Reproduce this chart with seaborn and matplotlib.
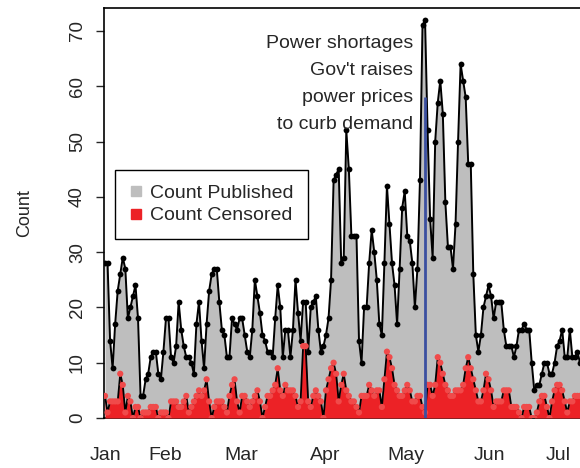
import numpy as np
import pandas as pd
import matplotlib
matplotlib.use("Agg")
import matplotlib.pyplot as plt
import seaborn as sns
from matplotlib.lines import Line2D

# ---------------- data ----------------
published = [
    28, 28, 14, 9, 17, 23, 26, 29, 27, 18, 20, 22, 24, 18, 4, 4, 7, 8, 11, 12,
    12, 8, 7, 12, 18, 18, 11, 10, 13, 21, 16, 13, 11, 11, 10, 8, 17, 21,
    14, 9, 17, 23, 26, 27, 27, 21, 16, 15, 11, 11, 18, 17, 16, 18, 18, 15, 12, 11,
    16, 25, 22, 19, 15, 14, 12, 12, 11, 18, 24, 20, 11, 16, 16, 11, 16, 25,
    19, 14, 21, 21, 12, 20, 21, 22, 16, 12, 13, 15, 18, 25, 43, 44, 45, 28, 29, 52,
    45, 33, 33, 33, 14, 10, 20, 20, 28, 34, 30, 25, 17, 15, 28, 42,
    35, 28, 24, 17, 27, 38, 41, 33, 32, 28, 20, 27, 43, 71, 72, 52, 36, 29, 50, 57,
    61, 55, 39, 31, 31, 27, 35, 50, 64, 61, 58, 46, 46, 26, 15, 12, 15, 20,
    22, 24, 22, 18, 21, 21, 21, 16, 13, 13, 13, 11, 13, 16, 16, 17, 16, 16, 10, 5,
    6, 6, 8, 10, 10, 8, 8, 10, 13, 14, 16, 11, 11, 16, 11, 11, 12, 10,
]
censored = [
    4, 1, 3, 3, 3, 3, 8, 6, 1, 4, 3, 0, 2, 2, 0, 1, 1, 1, 2, 2,
    2, 0, 1, 1, 1, 0, 3, 3, 3, 2, 2, 3, 4, 1, 2, 3, 4, 5, 4, 5,
    7, 3, 0, 2, 3, 3, 3, 2, 1, 4, 6, 7, 3, 1, 4, 4, 3, 2, 3, 4,
    5, 3, 0, 2, 4, 4, 5, 6, 9, 5, 4, 6, 5, 5, 5, 4, 2, 3, 13, 13,
    3, 2, 4, 5, 4, 3, 0, 5, 7, 9, 10, 8, 3, 6, 8, 5, 4, 3, 3, 2,
    1, 4, 4, 4, 6, 5, 4, 5, 5, 2, 7, 12, 11, 9, 6, 5, 4, 4, 5, 6,
    5, 3, 3, 4, 4, 2, 1, 6, 6, 4, 6, 11, 10, 8, 6, 5, 4, 4, 5, 5,
    5, 6, 9, 11, 9, 7, 5, 3, 3, 5, 8, 7, 5, 2, 3, 3, 3, 5, 5, 5,
    2, 2, 2, 1, 0, 2, 2, 2, 0, 0, 1, 3, 4, 4, 2, 0, 3, 5, 6, 6,
    5, 3, 1, 3, 3, 4, 4, 4,
]
month_labels = ["Jan", "Feb", "Mar", "Apr", "May", "Jun", "Jul"]
legend_labels = ["Count Published", "Count Censored"]
annotation = "Power shortages\nGov't raises\npower prices\nto curb demand"
event_day = 126
event_top = 58

# ---------------- layout ----------------
W, H = 580, 468
PX_PER_DAY = 2.54
month_px = [105, 165, 241, 325, 406, 489, 558]

sns.set_style("ticks")
plt.rcParams['font.family'] = ['Liberation Sans', 'DejaVu Sans']

GRAY = "#BEBEBE"
RED = "#EC2226"
RED_DOT = "#F04A4A"
BLUE = "#3B4FA0"

fig = plt.figure(figsize=(W / 100, H / 100), dpi=100)
ax_l, ax_r, ax_t, ax_b = 104, 594, 8, 418
ax = fig.add_axes([ax_l / W, 1 - ax_b / H, (ax_r - ax_l) / W, (ax_b - ax_t) / H])

df = pd.DataFrame({
    "day": np.arange(len(published)),
    "published": published,
    "censored": censored,
})

ax.fill_between(df["day"], 0, df["published"], color=GRAY, lw=0, zorder=1)
sns.lineplot(data=df, x="day", y="published", color="black", lw=1.4,
             marker="o", markersize=4.2, markeredgewidth=0, ax=ax, zorder=2)
ax.fill_between(df["day"], 0, df["censored"], color=RED, lw=0, zorder=3)
sns.lineplot(data=df, x="day", y="censored", color="black", lw=1.3, ax=ax, zorder=4)
sns.scatterplot(data=df, x="day", y="censored", color=RED_DOT, s=20,
                edgecolor="none", ax=ax, zorder=5)

ax.vlines(event_day, 0, event_top, color=BLUE, lw=2, zorder=6)

x_left = -(105 - ax_l) / PX_PER_DAY
ax.set_xlim(x_left, x_left + (ax_r - ax_l) / PX_PER_DAY)
ax.set_ylim(0, (ax_b - ax_t) / 5.53)

ax.set_xticks([x_left + (p - ax_l) / PX_PER_DAY for p in month_px])
ax.set_xticklabels(month_labels, fontsize=14)
ax.tick_params(axis="x", length=0, pad=21)
ax.set_yticks(np.arange(0, 71, 10))
ax.tick_params(axis="y", labelsize=13.5, labelrotation=90, length=6, width=1, pad=7)
for lab in ax.get_yticklabels():
    lab.set_va("center")

ax.set_xlabel("")
ax.set_ylabel("Count", fontsize=13)
ax.yaxis.set_label_coords((33 - ax_l) / (ax_r - ax_l), 0.5)

for side in ["left", "top", "bottom", "right"]:
    ax.spines[side].set_color("black")
    ax.spines[side].set_linewidth(1.2)

handles = [Line2D([], [], marker="s", ls="none", color=GRAY, markersize=7),
           Line2D([], [], marker="s", ls="none", color=RED, markersize=7)]
leg = ax.legend(handles, legend_labels, loc="upper left",
                bbox_to_anchor=((115 - ax_l) / (ax_r - ax_l), (ax_b - 170) / (ax_b - ax_t)),
                borderaxespad=0, fontsize=14, frameon=True, fancybox=False,
                edgecolor="black", framealpha=1, borderpad=0.75, handlelength=0.7,
                handletextpad=0.35, labelspacing=0.24)
leg.get_frame().set_linewidth(1.0)
leg.set_zorder(10)

fig.text(413 / W, 1 - 35 / H, annotation, ha="right", va="top",
         fontsize=14, linespacing=1.78, multialignment="right")

fig.savefig("out.png", dpi=100)
